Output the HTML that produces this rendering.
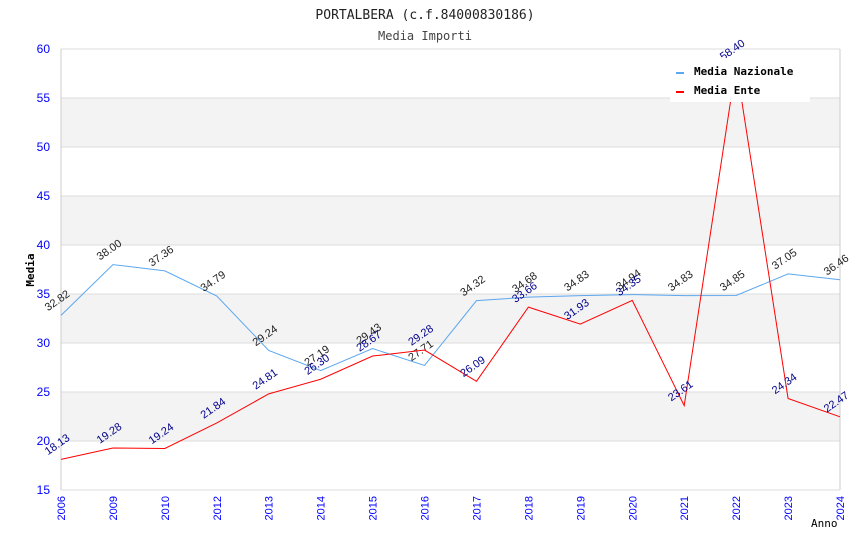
<!DOCTYPE html>
<html><head><meta charset="utf-8"><style>
body{margin:0;background:#fff}
svg{font-family:"DejaVu Sans Mono","Liberation Mono",monospace}
.n{font-family:"Liberation Sans",sans-serif}
</style></head><body>
<svg id="chart" width="850" height="550" xmlns="http://www.w3.org/2000/svg">
<text x="425" y="19" text-anchor="middle" font-size="13" fill="#222">PORTALBERA (c.f.84000830186)</text>
<text x="425" y="40" text-anchor="middle" font-size="12" fill="#444">Media Importi</text>
<g id="grid"></g>
<g id="series"></g>
<text transform="translate(34,270) rotate(-90)" text-anchor="middle" font-size="11" font-weight="bold" fill="#000">Media</text>
<text x="811" y="527" font-size="11" fill="#000">Anno</text>
<g>
<rect x="670" y="58" width="140" height="44" fill="#fff"/>
<rect x="676" y="72" width="8" height="2" fill="#5ba7f0"/>
<text x="694" y="75" font-size="11" font-weight="bold" fill="#000">Media Nazionale</text>
<rect x="676" y="91" width="8" height="2" fill="#f00"/>
<text x="694" y="94" font-size="11" font-weight="bold" fill="#000">Media Ente</text>
</g>
</svg>
<script>
const categories=["2006","2009","2010","2012","2013","2014","2015","2016","2017","2018","2019","2020","2021","2022","2023","2024"];
const nazionale=[32.82,38.00,37.36,34.79,29.24,27.19,29.43,27.71,34.32,34.68,34.83,34.94,34.83,34.85,37.05,36.46];
const ente=[18.13,19.28,19.24,21.84,24.81,26.30,28.67,29.28,26.09,33.66,31.93,34.35,23.61,58.40,24.34,22.47];
const yTicks=[15,20,25,30,35,40,45,50,55,60];
const NS="http://www.w3.org/2000/svg";
const L=61,R=840,T=49,B=490,ymin=15,ymax=60;
function x(i){return L+(R-L)*i/(categories.length-1);}
function y(v){return B-(v-ymin)/(ymax-ymin)*(B-T);}
function mk(tag,attrs,parent){const e=document.createElementNS(NS,tag);for(const k in attrs)e.setAttribute(k,attrs[k]);parent.appendChild(e);return e;}
const grid=document.getElementById('grid'),ser=document.getElementById('series');
for(let k=0;k<yTicks.length-1;k++){
  const a=yTicks[k],b=yTicks[k+1];
  if(k%2===1){const r=mk('rect',{x:L,y:y(b),width:R-L,height:y(a)-y(b),fill:'#f3f3f3'},grid);
  
  }
}
yTicks.forEach(t=>{
  const l=mk('line',{x1:L,x2:R,y1:y(t),y2:y(t),stroke:'#ddd'},grid);
  
  
  const tx=mk('text',{x:50,y:y(t)+4,'text-anchor':'end','font-size':12,fill:'#00f',class:'n'},grid);
  tx.textContent=t;
  
  
});
mk('line',{x1:L,x2:L,y1:T,y2:B,stroke:'#ccc'},grid);
mk('line',{x1:R,x2:R,y1:T,y2:B,stroke:'#ccc'},grid);
categories.forEach((c,i)=>{
  const tx=mk('text',{transform:`translate(${x(i)+4},${B+6}) rotate(-90)`,'text-anchor':'end','font-size':11,fill:'#00f',class:'n'},grid);
  tx.textContent=c;
  
  
});
function line(vals,color,lab,name){
  const p=mk('polyline',{points:vals.map((v,i)=>x(i)+','+y(v)).join(' '),fill:'none',stroke:color,'stroke-width':1},ser);
  
  
  vals.forEach((v,i)=>{
    const t=mk('text',{transform:`translate(${x(i)-13},${y(v)-4}) rotate(-35)`,'font-size':11,fill:lab,class:'n'},ser);
    t.textContent=v.toFixed(2);
    
    
  });
}
line(nazionale,'#5ba7f0','#222','media-nazionale-line');
line(ente,'#f00','#00008b','media-ente-line');
</script>
</body></html>
